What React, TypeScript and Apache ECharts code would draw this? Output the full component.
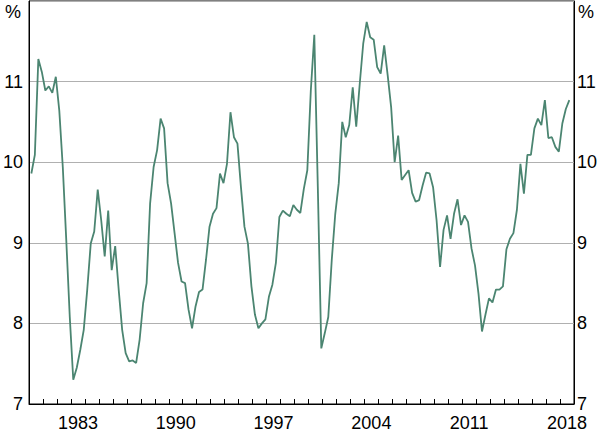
import React, { useEffect, useRef } from 'react';
import * as echarts from 'echarts';

// Quarterly series, 1980 Q1 to 2018 Q3 (per cent)
const START_YEAR = 1980;
const VALUES: number[] = [
  9.86, 10.09, 11.28, 11.12, 10.89, 10.94, 10.86, 11.06, 10.64, 9.94,
  9.03, 8.08, 7.30, 7.45, 7.67, 7.92, 8.42, 8.99, 9.14, 9.66,
  9.28, 8.83, 9.40, 8.66, 8.96, 8.42, 7.92, 7.63, 7.53, 7.54,
  7.51, 7.80, 8.25, 8.50, 9.49, 9.94, 10.15, 10.54, 10.42, 9.74,
  9.49, 9.12, 8.75, 8.52, 8.50, 8.17, 7.94, 8.21, 8.39, 8.42,
  8.79, 9.20, 9.36, 9.43, 9.86, 9.74, 9.98, 10.62, 10.31, 10.23,
  9.69, 9.20, 8.99, 8.46, 8.11, 7.94, 8.00, 8.05, 8.33, 8.48,
  8.75, 9.32, 9.40, 9.36, 9.33, 9.47, 9.41, 9.37, 9.67, 9.90,
  10.89, 11.58, 9.70, 7.69, 7.88, 8.08, 8.79, 9.36, 9.74, 10.50,
  10.31, 10.46, 10.93, 10.44, 10.97, 11.47, 11.74, 11.55, 11.52, 11.18,
  11.10, 11.45, 11.08, 10.68, 10.00, 10.33, 9.78, 9.84, 9.90, 9.62,
  9.51, 9.53, 9.71, 9.87, 9.86, 9.69, 9.28, 8.70, 9.16, 9.34,
  9.05, 9.36, 9.54, 9.22, 9.34, 9.26, 8.93, 8.72, 8.37, 7.90,
  8.11, 8.31, 8.26, 8.42, 8.42, 8.46, 8.92, 9.05, 9.12, 9.41,
  9.98, 9.61, 10.09, 10.09, 10.42, 10.54, 10.46, 10.77, 10.30, 10.31,
  10.19, 10.13, 10.48, 10.66, 10.77,
];

const YEARS: string[] = Array.from({ length: 39 }, (_, i) => String(START_YEAR + i));
const LABEL_YEARS: string[] = ['1983', '1990', '1997', '2004', '2011', '2018'];
const Y_TICKS_HIDDEN: number[] = [12];

const FONT = 'Liberation Sans, Arial, sans-serif';
const LINE_COLOR = '#4b8571';

export default function App() {
  const ref = useRef<HTMLDivElement>(null);

  useEffect(() => {
    document.body.style.margin = '0';
    if (!ref.current) return;
    const chart = echarts.init(ref.current, null, { renderer: 'svg' });

    // quarterly points placed at the middle month of each quarter
    const points = VALUES.map((v, i) => [START_YEAR + i / 4 + 1 / 6, v]);

    const yAxisBase = {
      type: 'value',
      min: 7,
      max: 12,
      interval: 1,
      axisLine: { show: true, lineStyle: { color: '#000', width: 1 } },
      axisTick: { show: false },
    };

    chart.setOption({
      animation: false,
      grid: {
        left: 26,
        right: 25,
        top: 1,
        bottom: 28,
        show: true,
        borderColor: '#000',
        borderWidth: 1,
        backgroundColor: 'transparent',
      },
      xAxis: [
        {
          type: 'category',
          data: YEARS,
          boundaryGap: true,
          position: 'bottom',
          axisLine: { show: true, lineStyle: { color: '#000', width: 1 } },
          axisTick: {
            show: true,
            inside: true,
            length: 5,
            interval: 0,
            lineStyle: { color: '#000', width: 1 },
          },
          axisLabel: {
            interval: 0,
            formatter: (v: string) => (LABEL_YEARS.includes(v) ? v : ''),
            fontSize: 18,
            lineHeight: 18,
            fontFamily: FONT,
            color: '#000',
            margin: 10,
          },
          splitLine: { show: false },
        },
        {
          type: 'value',
          min: START_YEAR,
          max: START_YEAR + YEARS.length,
          show: false,
        },
      ],
      yAxis: [
        {
          ...yAxisBase,
          position: 'left',
          splitLine: { show: true, lineStyle: { color: '#b0b0b0', width: 1 } },
          axisLabel: {
            formatter: (v: number) => (Y_TICKS_HIDDEN.includes(v) ? '' : String(v)),
            fontSize: 18,
            lineHeight: 15,
            fontFamily: FONT,
            color: '#000',
            margin: 6,
          },
        },
        {
          ...yAxisBase,
          position: 'right',
          splitLine: { show: false },
          axisLabel: {
            formatter: (v: number) => (Y_TICKS_HIDDEN.includes(v) ? '' : String(v)),
            fontSize: 18,
            lineHeight: 15,
            fontFamily: FONT,
            color: '#000',
            margin: 3,
          },
        },
      ],
      graphic: [
        {
          type: 'text',
          x: 13,
          y: 12,
          style: {
            text: '%',
            align: 'center',
            verticalAlign: 'middle',
            fontSize: 18,
            fontFamily: FONT,
            fill: '#000',
          },
        },
        {
          type: 'text',
          x: 586,
          y: 12,
          style: {
            text: '%',
            align: 'center',
            verticalAlign: 'middle',
            fontSize: 18,
            fontFamily: FONT,
            fill: '#000',
          },
        },
      ],
      series: [
        {
          type: 'line',
          xAxisIndex: 1,
          yAxisIndex: 0,
          data: points,
          symbol: 'none',
          showSymbol: false,
          lineStyle: { color: LINE_COLOR, width: 1.8 },
        },
      ],
    });

    return () => chart.dispose();
  }, []);

  return <div ref={ref} style={{ width: 600, height: 432 }} />;
}
